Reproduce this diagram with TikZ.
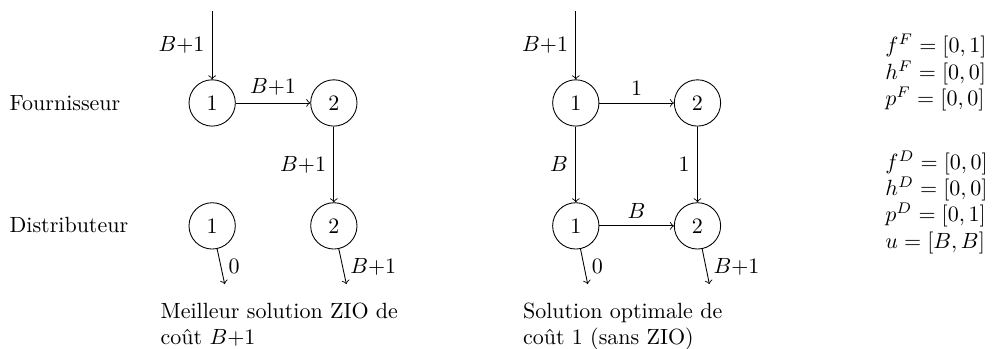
\documentclass[tikz,border=0pt]{standalone}
\usetikzlibrary{positioning}

\begin{document}
\begin{tikzpicture}[node distance=1.21cm and 1.19cm, site/.style={draw,circle,minimum size=0.74cm,inner sep=0pt}, caption/.style={align=left,inner sep=0pt,anchor=north west}, >=to]
\useasboundingbox (0,0) rectangle (15.85,-5.575);
% row names
\node[anchor=west] (fourn) at (0.03,-1.645) {Fournisseur};
\node[anchor=west] (distr) at (0.03,-3.594) {Distributeur};
% ZIO solution
\node[site] (F1) at (3.39,-1.645) {1};
\node[site,right=of F1] (F2) {2};
\node[site,below=of F1] (D1) {1};
\node[site,below=of F2] (D2) {2};
\coordinate[above=1.09cm of F1] (inL);
\coordinate (outL1) at ([shift={(0.2,-0.93)}]D1.center);
\coordinate (outL2) at ([shift={(0.2,-0.93)}]D2.center);
\draw[->] (inL) -- node[left]{$B{+}1$} (F1);
\draw[->] (F1) -- node[above]{$B{+}1$} (F2);
\draw[->] (F2) -- node[left]{$B{+}1$} (D2);
\draw[->] (D1) -- node[right]{$0$} (outL1);
\draw[->] (D2) -- node[right]{$B{+}1$} (outL2);
\node[caption] (capL) at (2.56,-4.83) {Meilleur solution ZIO de\\coût $B{+}1$};
% optimal solution
\node[site] (G1) at (9.2,-1.645) {1};
\node[site,right=of G1] (G2) {2};
\node[site,below=of G1] (E1) {1};
\node[site,below=of G2] (E2) {2};
\coordinate[above=1.09cm of G1] (inR);
\coordinate (outR1) at ([shift={(0.19,-0.93)}]E1.center);
\coordinate (outR2) at ([shift={(0.19,-0.93)}]E2.center);
\draw[->] (inR) -- node[left]{$B{+}1$} (G1);
\draw[->] (G1) -- node[above]{$1$} (G2);
\draw[->] (G1) -- node[left]{$B$} (E1);
\draw[->] (G2) -- node[left]{$1$} (E2);
\draw[->] (E1) -- node[above]{$B$} (E2);
\draw[->] (E1) -- node[right]{$0$} (outR1);
\draw[->] (E2) -- node[right]{$B{+}1$} (outR2);
\node[caption] (capR) at (8.35,-4.83) {Solution optimale de\\coût 1 (sans ZIO)};
% data
\node[caption] (dataF) at (14.14,-0.543) {$f^F=[0,1]$\\$h^F=[0,0]$\\$p^F=[0,0]$};
\node[caption] (dataD) at (14.14,-2.40) {$f^D=[0,0]$\\$h^D=[0,0]$\\$p^D=[0,1]$\\$u=[B,B]$};
\end{tikzpicture}
\end{document}
